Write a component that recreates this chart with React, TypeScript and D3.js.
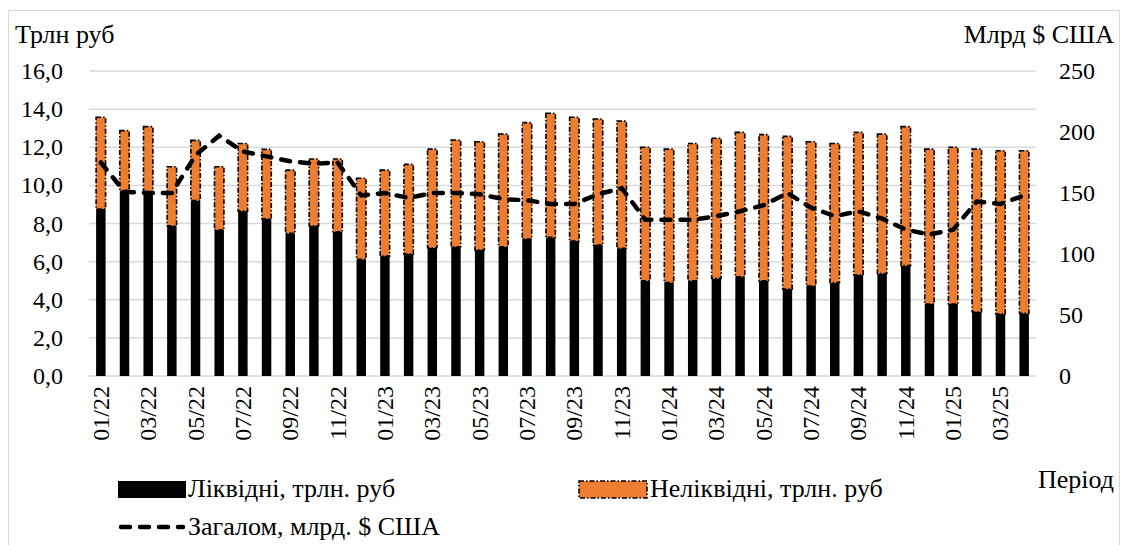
import * as d3 from "d3";

// Months, 01/22 .. 04/25
const months = [
  "01/22", "02/22", "03/22", "04/22", "05/22", "06/22", "07/22", "08/22", "09/22", "10/22", "11/22", "12/22",
  "01/23", "02/23", "03/23", "04/23", "05/23", "06/23", "07/23", "08/23", "09/23", "10/23", "11/23", "12/23",
  "01/24", "02/24", "03/24", "04/24", "05/24", "06/24", "07/24", "08/24", "09/24", "10/24", "11/24", "12/24",
  "01/25", "02/25", "03/25", "04/25",
];

// Liquid, trillion rub
const liquid = [
  8.76, 9.7, 9.63, 7.88, 9.2, 7.66, 8.65, 8.25, 7.48, 7.88, 7.57, 6.12,
  6.29, 6.4, 6.73, 6.78, 6.61, 6.78, 7.19, 7.27, 7.08, 6.87, 6.7, 5.0,
  4.9, 5.0, 5.12, 5.21, 5.0, 4.56, 4.72, 4.9, 5.3, 5.38, 5.79, 3.78,
  3.78, 3.37, 3.25, 3.29,
];

// Illiquid, trillion rub
const illiquid = [
  4.81, 3.17, 3.45, 3.1, 3.16, 3.32, 3.55, 3.64, 3.32, 3.5, 3.81, 4.25,
  4.51, 4.7, 5.17, 5.6, 5.68, 5.91, 6.1, 6.51, 6.49, 6.61, 6.67, 7.0,
  7.0, 7.2, 7.35, 7.57, 7.66, 8.01, 7.57, 7.3, 7.48, 7.31, 7.29, 8.12,
  8.22, 8.53, 8.57, 8.53,
];

// Overall, bn USD
const totalUsd = [
  175, 151, 150, 150, 181, 197, 184, 180, 176, 174, 175, 148,
  150, 146, 150, 150, 149, 145, 144, 141, 141, 149, 154, 128,
  128, 128, 131, 135, 140, 150, 138, 131, 135, 129, 120, 116,
  120, 143, 141, 148,
];

const leftTicks = [0, 2, 4, 6, 8, 10, 12, 14, 16];
const rightTicks = [0, 50, 100, 150, 200, 250];

const W = 1124;
const H = 545;
const ORANGE = "#ED7D31";
const GRID = "#d9d9d9";

export default function App() {
  const x = d3.scaleBand<string>().domain(months).range([89, 1036]).paddingInner(0.6).paddingOuter(0.3);
  const yL = d3.scaleLinear().domain([0, 16]).range([376, 71]);
  const yR = d3.scaleLinear().domain([0, 250]).range([376, 71]);
  const bw = x.bandwidth();
  const cx = (m: string) => (x(m) ?? 0) + bw / 2;

  const line = d3
    .line<number>()
    .x((_, i) => cx(months[i]))
    .y((d) => yR(d));

  return (
    <svg width={W} height={H} style={{ position: "absolute", left: 0, top: 0, background: "#fff" }}>
      <style>{`svg text { font-family: "Liberation Serif", "Times New Roman", serif !important; fill: #000; }`}</style>
      <rect x={8.5} y={10.5} width={1111} height={560} fill="#fff" stroke={GRID} strokeWidth={1} />

      {/* gridlines */}
      {leftTicks.map((t) => (
        <line key={t} x1={89} x2={1036} y1={yL(t)} y2={yL(t)} stroke={GRID} strokeWidth={1.5} />
      ))}

      {/* left ticks */}
      {leftTicks.map((t) => (
        <text key={"l" + t} x={63} y={yL(t) + 8} textAnchor="end" fontSize={24}>
          {t.toFixed(1).replace(".", ",")}
        </text>
      ))}
      {/* right ticks */}
      {rightTicks.map((t) => (
        <text key={"r" + t} x={1059} y={yR(t) + 8} textAnchor="start" fontSize={24}>
          {t}
        </text>
      ))}

      <text x={15} y={43} fontSize={26}>Трлн руб</text>
      <text x={1114} y={43} fontSize={26} textAnchor="end">Млрд $ США</text>

      {/* bars */}
      {months.map((m, i) => (
        <g key={m}>
          <rect x={x(m)} y={yL(liquid[i])} width={bw} height={yL(0) - yL(liquid[i])} fill="#000" />
          <rect
            x={x(m)}
            y={yL(liquid[i] + illiquid[i])}
            width={bw}
            height={yL(liquid[i]) - yL(liquid[i] + illiquid[i])}
            fill={ORANGE}
            stroke="#000"
            strokeWidth={1.6}
            strokeDasharray="5 2 1.5 2"
          />
        </g>
      ))}

      {/* line */}
      <path
        d={line(totalUsd) ?? ""}
        fill="none"
        stroke="#000"
        strokeWidth={4.5}
        strokeDasharray="9 10"
        strokeLinecap="round"
      />

      {/* x labels */}
      {months.map((m, i) =>
        i % 2 === 0 ? (
          <text
            key={"x" + m}
            transform={`translate(${cx(m) + 8},386) rotate(-90)`}
            textAnchor="end"
            fontSize={24}
          >
            {m}
          </text>
        ) : null
      )}

      <text x={1114} y={488} fontSize={26} textAnchor="end">Період</text>

      {/* legend */}
      <rect x={118} y={481} width={68} height={17} fill="#000" />
      <text x={188} y={497} fontSize={26}>Ліквідні, трлн. руб</text>
      <rect x={579} y={481} width={68} height={17} fill={ORANGE} stroke="#000" strokeWidth={1.6} strokeDasharray="5 2 1.5 2" />
      <text x={650} y={497} fontSize={26}>Неліквідні, трлн. руб</text>
      <line x1={121} x2={183} y1={527} y2={527} stroke="#000" strokeWidth={4.5} strokeDasharray="9 10" strokeLinecap="round" />
      <text x={188} y={535} fontSize={26}>Загалом, млрд. $ США</text>
    </svg>
  );
}
